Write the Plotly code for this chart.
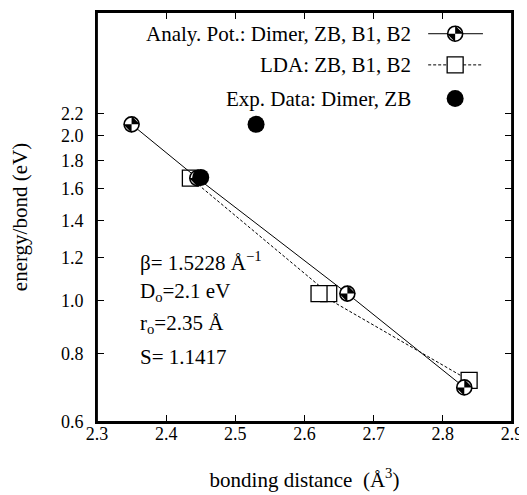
import plotly.graph_objects as go
import numpy as np

# ---- data ----
analy_x = [2.35, 2.445, 2.662, 2.831]
analy_y = [2.10, 1.675, 1.03, 0.694]

lda_x = [2.435, 2.635, 2.621, 2.838]
lda_y = [1.675, 1.03, 1.03, 0.715]

exp_x = [2.45, 2.53]
exp_y = [1.68, 2.10]

x_ticks = [2.3, 2.4, 2.5, 2.6, 2.7, 2.8, 2.9]
y_ticks = [0.6, 0.8, 1.0, 1.2, 1.4, 1.6, 1.8, 2.0, 2.2]
y_ticktext = ["0.6", "0.8", "1.0", "1.2", "1.4", "1.6", "1.8", "2.0", "2.2"]

legend_labels = ["Analy. Pot.: Dimer, ZB, B1, B2", "LDA: ZB, B1, B2", "Exp. Data: Dimer, ZB"]

FONT = "'Liberation Serif', 'Times New Roman', Times, serif"
CIRC = 15
SQ = 16
EXPS = 17
BOW = CIRC * 0.78
DASH = "3px,2px"

fig = go.Figure()

# LDA
fig.add_trace(go.Scatter(x=lda_x, y=lda_y, mode="lines+markers",
                         line=dict(color="black", width=1, dash=DASH),
                         marker=dict(symbol="square", size=SQ, color="white",
                                     line=dict(color="black", width=1.3)),
                         showlegend=False))
# Analytical potential (quartered circle built from layers)
fig.add_trace(go.Scatter(x=analy_x, y=analy_y, mode="lines+markers",
                         line=dict(color="black", width=1),
                         marker=dict(symbol="circle", size=CIRC, color="white",
                                     line=dict(color="black", width=0)),
                         showlegend=False))
fig.add_trace(go.Scatter(x=analy_x, y=analy_y, mode="markers",
                         marker=dict(symbol="bowtie", size=BOW, color="black", angle=-45,
                                     line=dict(width=0)),
                         showlegend=False))
fig.add_trace(go.Scatter(x=analy_x, y=analy_y, mode="markers",
                         marker=dict(symbol="circle-open", size=CIRC, color="black",
                                     line=dict(color="black", width=1.6)),
                         showlegend=False))
# Experimental
fig.add_trace(go.Scatter(x=exp_x, y=exp_y, mode="markers",
                         marker=dict(symbol="circle", size=EXPS, color="black",
                                     line=dict(width=0)),
                         showlegend=False))

# ---- custom legend (text left of symbol) on hidden overlay axes ----
leg_y = [0.947, 0.871, 0.789]
lx0, lx1, lxm = 0.798, 0.930, 0.863
fig.add_trace(go.Scatter(x=[lx0, lx1], y=[leg_y[0]] * 2, mode="lines",
                         line=dict(color="black", width=1), xaxis="x2", yaxis="y2", showlegend=False))
fig.add_trace(go.Scatter(x=[lxm], y=[leg_y[0]], mode="markers", xaxis="x2", yaxis="y2",
                         marker=dict(symbol="circle", size=CIRC, color="white", line=dict(width=0)),
                         showlegend=False))
fig.add_trace(go.Scatter(x=[lxm], y=[leg_y[0]], mode="markers", xaxis="x2", yaxis="y2",
                         marker=dict(symbol="bowtie", size=BOW, color="black", angle=-45, line=dict(width=0)),
                         showlegend=False))
fig.add_trace(go.Scatter(x=[lxm], y=[leg_y[0]], mode="markers", xaxis="x2", yaxis="y2",
                         marker=dict(symbol="circle-open", size=CIRC, color="black",
                                     line=dict(color="black", width=1.6)),
                         showlegend=False))
fig.add_trace(go.Scatter(x=[lx0, lx1], y=[leg_y[1]] * 2, mode="lines", xaxis="x2", yaxis="y2",
                         line=dict(color="black", width=1, dash=DASH), showlegend=False))
fig.add_trace(go.Scatter(x=[lxm], y=[leg_y[1]], mode="markers", xaxis="x2", yaxis="y2",
                         marker=dict(symbol="square", size=SQ, color="white",
                                     line=dict(color="black", width=1.3)),
                         showlegend=False))
fig.add_trace(go.Scatter(x=[lxm], y=[leg_y[2]], mode="markers", xaxis="x2", yaxis="y2",
                         marker=dict(symbol="circle", size=EXPS, color="black", line=dict(width=0)),
                         showlegend=False))

annotations = []
for lab, yy in zip(legend_labels, leg_y):
    annotations.append(dict(x=0.761, y=yy, xref="paper", yref="paper", text=lab,
                            showarrow=False, xanchor="right", yanchor="middle",
                            font=dict(family=FONT, size=21, color="black")))

params = ["β= 1.5228 Å<sup>−1</sup>", "D<sub>o</sub>=2.1 eV", "r<sub>o</sub>=2.35 Å", "S= 1.1417"]
param_y = [0.391, 0.318, 0.238, 0.158]
for t, yy in zip(params, param_y):
    annotations.append(dict(x=0.099, y=yy, xref="paper", yref="paper", text=t,
                            showarrow=False, xanchor="left", yanchor="middle",
                            font=dict(family=FONT, size=21, color="black")))

axis_common = dict(showline=True, linecolor="black", linewidth=1.8, mirror="ticks",
                   ticks="inside", ticklen=7, tickwidth=1.3, tickcolor="black",
                   showgrid=False, zeroline=False,
                   tickfont=dict(family=FONT, size=18, color="black"))

# The page body adds an 8px offset; figure size/margins compensate for it.
fig.update_layout(
    width=519, height=487,
    margin=dict(l=89, r=15, t=2, b=73),
    paper_bgcolor="white", plot_bgcolor="white",
    showlegend=False,
    font=dict(family=FONT, color="black"),
    xaxis=dict(range=[2.3, 2.9], tickvals=x_ticks, ticktext=[f"{v:.1f}" for v in x_ticks],
               title=dict(text="bonding distance  (Å<sup>3</sup>)", standoff=30,
                          font=dict(family=FONT, size=21, color="black")),
               ticklabelstandoff=-6, **axis_common),
    yaxis=dict(type="log", range=[np.log10(0.6), np.log10(3.37)], tickvals=y_ticks,
               ticktext=y_ticktext,
               title=dict(text="energy/bond (eV)", standoff=28,
                          font=dict(family=FONT, size=21, color="black")),
               ticklabelstandoff=8, **axis_common),
    xaxis2=dict(overlaying="x", range=[0, 1], visible=False),
    yaxis2=dict(overlaying="y", range=[0, 1], visible=False),
    shapes=[dict(type="rect", xref="paper", yref="paper", x0=0, y0=0, x1=1, y1=1,
                 line=dict(color="black", width=1.8), fillcolor="rgba(0,0,0,0)", layer="above")],
    annotations=annotations,
)

fig.write_html("out.html")
